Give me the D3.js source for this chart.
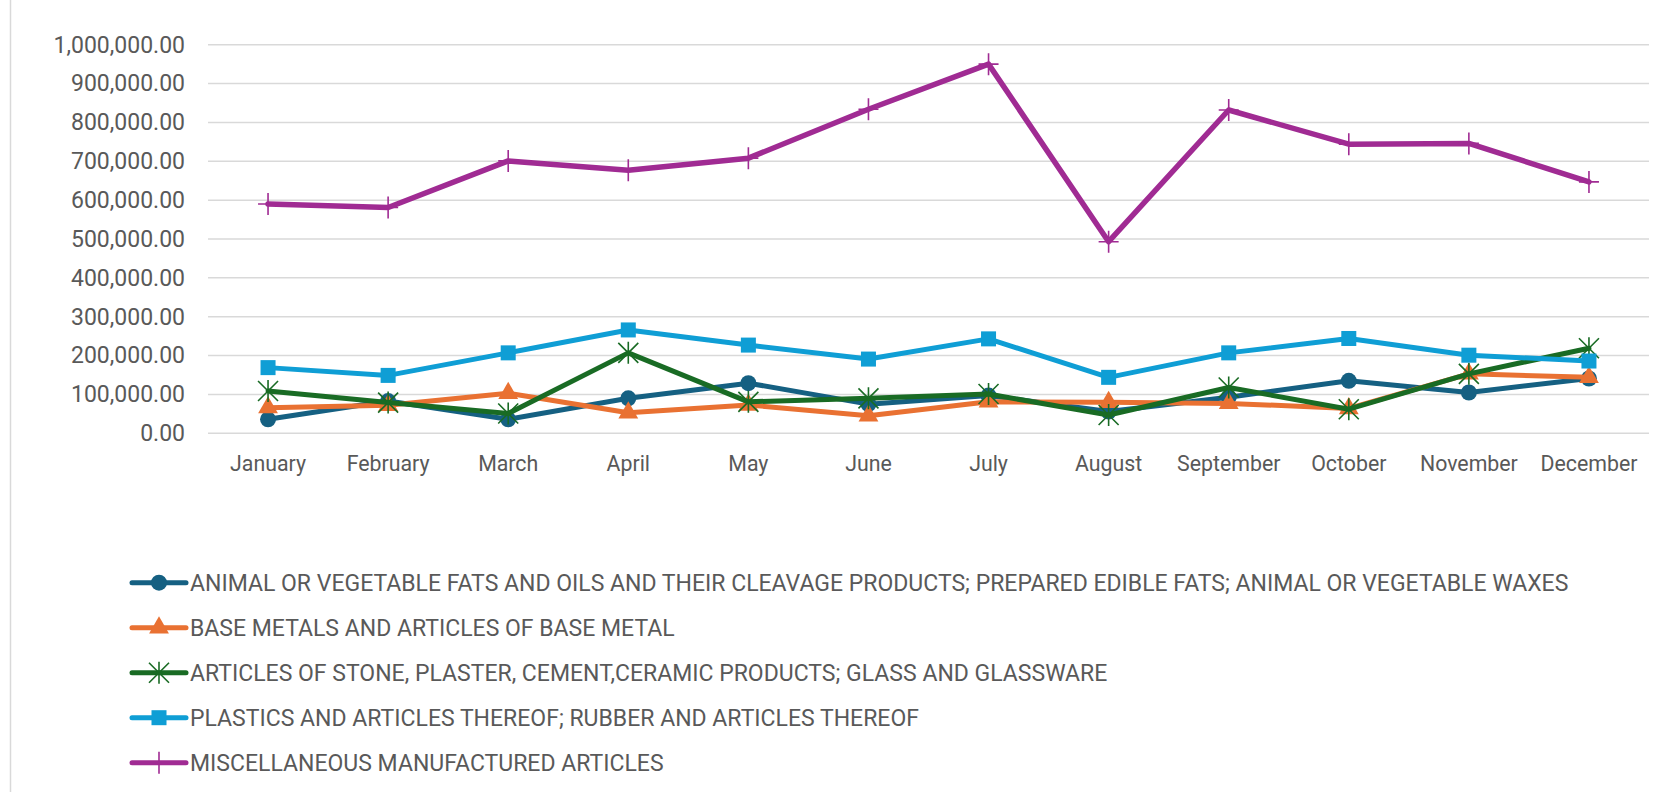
<!DOCTYPE html>
<html>
<head>
<meta charset="utf-8">
<script src="https://cdn.jsdelivr.net/npm/d3@7"></script>
<style>
  body { margin: 0; background: #fff; }
  text { font-family: Roboto, "Noto Sans", sans-serif; fill: #595959; }
</style>
</head>
<body>
<div id="chart"></div>
<script>
// months on the x axis
const months = ["January", "February", "March", "April", "May", "June",
  "July", "August", "September", "October", "November", "December"];

const seriesNames = [
  "ANIMAL OR VEGETABLE FATS AND OILS AND THEIR CLEAVAGE PRODUCTS; PREPARED EDIBLE FATS; ANIMAL OR VEGETABLE WAXES",
  "BASE METALS AND ARTICLES OF BASE METAL",
  "ARTICLES OF STONE, PLASTER, CEMENT,CERAMIC PRODUCTS; GLASS AND GLASSWARE",
  "PLASTICS AND ARTICLES THEREOF; RUBBER AND ARTICLES THEREOF",
  "MISCELLANEOUS MANUFACTURED ARTICLES"
];

// values
const fatsOils   = [36000, 83000, 36000, 90000, 129000, 75000, 97000, 56000, 93000, 135000, 105000, 141000];
const baseMetals = [66000, 72000, 103000, 53000, 73000, 45000, 81000, 80000, 77000, 64000, 153000, 144000];
const stoneGlass = [109000, 79000, 51000, 207000, 81000, 90000, 101000, 47000, 118000, 62000, 153000, 219000];
const plastics   = [169000, 149000, 207000, 266000, 227000, 191000, 243000, 144000, 207000, 244000, 201000, 186000];
const miscManuf  = [590000, 581000, 701000, 677000, 708000, 834000, 950000, 493000, 832000, 744000, 746000, 647000];

const yTicks = d3.range(0, 1000001, 100000);

const width = 1660, height = 792;
const colors = ["#156082", "#E97132", "#196B24", "#0F9ED5", "#A02B93"];
const markers = ["circle", "triangle", "star", "square", "plus"];
const allValues = [fatsOils, baseMetals, stoneGlass, plastics, miscManuf];

const series = seriesNames.map((name, i) => ({
  name: name, values: allValues[i], color: colors[i], marker: markers[i]
}));

const svg = d3.select("#chart").append("svg")
  .attr("width", width)
  .attr("height", height);

// frame edge on the left
svg.append("line")
  .attr("x1", 10.5).attr("x2", 10.5)
  .attr("y1", 0).attr("y2", height)
  .attr("stroke", "#d9d9d9").attr("stroke-width", 1.5);

const x = d3.scaleBand().domain(months).range([208, 1649]);
const y = d3.scaleLinear().domain([0, 1000000]).range([433.3, 44.7]);

// gridlines
svg.append("g")
  .selectAll("line")
  .data(yTicks)
  .join("line")
  .attr("x1", 208).attr("x2", 1649)
  .attr("y1", d => y(d)).attr("y2", d => y(d))
  .attr("stroke", "#d9d9d9").attr("stroke-width", 1.5);

// y axis labels
const fmt = d3.format(",.2f");
const yAxis = d3.axisLeft(y).tickValues(yTicks).tickFormat(fmt).tickSize(0).tickPadding(23);
const yG = svg.append("g").attr("transform", "translate(208,0)").call(yAxis);
yG.select(".domain").remove();
yG.selectAll("text")
  .style("font-family", "Roboto, sans-serif")
  .style("font-size", "23px")
  .attr("fill", "#595959");

// x axis labels
const xAxis = d3.axisBottom(x).tickSize(0).tickPadding(0);
const xG = svg.append("g").attr("transform", "translate(0,455)").call(xAxis);
xG.select(".domain").remove();
xG.selectAll("text")
  .style("font-family", "Roboto, sans-serif")
  .style("font-size", "22px")
  .attr("fill", "#595959")
  .attr("dy", "0.35em")
  .attr("y", 8)
  .attr("transform", "scale(0.97,1)");

function drawMarker(g, type, color) {
  if (type === "circle") {
    g.append("circle").attr("r", 8).attr("fill", color);
  } else if (type === "triangle") {
    g.append("path").attr("d", d3.symbol(d3.symbolTriangle, 170)()).attr("fill", color);
  } else if (type === "square") {
    g.append("rect").attr("x", -7.5).attr("y", -7.5).attr("width", 15).attr("height", 15).attr("fill", color);
  } else if (type === "star") {
    g.append("path")
      .attr("d", "M-10,-10L10,10M-10,10L10,-10M0,-11L0,11")
      .attr("stroke", color).attr("stroke-width", 1.6).attr("fill", "none");
  } else if (type === "plus") {
    g.append("path")
      .attr("d", "M-10,0L10,0M0,-11L0,11")
      .attr("stroke", color).attr("stroke-width", 1.6).attr("fill", "none");
  }
}

const line = d3.line()
  .x((d, i) => x(months[i]) + x.bandwidth() / 2)
  .y(d => y(d));

series.forEach(s => {
  const g = svg.append("g");
  g.append("path")
    .datum(s.values)
    .attr("d", line)
    .attr("fill", "none")
    .attr("stroke", s.color)
    .attr("stroke-width", s.marker === "plus" ? 5.5 : 5)
    .attr("stroke-linejoin", "round")
    .attr("stroke-linecap", "round");
  g.selectAll("g.mk")
    .data(s.values)
    .join("g")
    .attr("class", "mk")
    .attr("transform", (d, i) => "translate(" + (x(months[i]) + x.bandwidth() / 2) + "," + y(d) + ")")
    .each(function () { drawMarker(d3.select(this), s.marker, s.color); });
});

// legend
const legend = svg.append("g");
const items = legend.selectAll("g")
  .data(series)
  .join("g")
  .attr("transform", (d, i) => "translate(0," + (582.7 + i * 45) + ")");
items.append("line")
  .attr("x1", 132).attr("x2", 186)
  .attr("stroke", d => d.color)
  .attr("stroke-width", 5)
  .attr("stroke-linecap", "round");
items.each(function (d) {
  const m = d3.select(this).append("g").attr("transform", "translate(159,0)");
  drawMarker(m, d.marker, d.color);
});
items.append("text")
  .attr("x", 190)
  .attr("dy", "0.35em")
  .style("font-size", "23px")
  .text(d => d.name);
</script>
</body>
</html>
